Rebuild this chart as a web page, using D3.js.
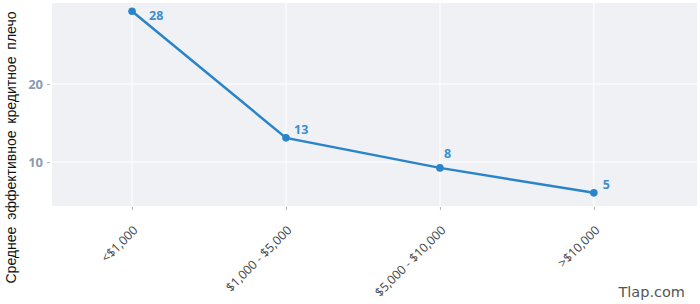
<!DOCTYPE html>
<html>
<head>
<meta charset="utf-8">
<script src="https://cdn.jsdelivr.net/npm/d3@7"></script>
<style>
  html, body { margin: 0; padding: 0; background: #fff; }
  svg { display: block; }
</style>
</head>
<body>
<svg id="chart" width="700" height="304"></svg>
<script>
// data
var categories = ['<$1,000', '$1,000 - $5,000', '$5,000 - $10,000', '>$10,000'];
var leverage = [29.35, 13.1, 9.25, 6.05];
var pointLabels = ['28', '13', '8', '5'];
var yTicks = [10, 20];
var yTitle = 'Среднее эффективное кредитное плечо';

var W = 700, H = 304;
var plot = { left: 52, right: 697, top: 3, bottom: 206 };

var svg = d3.select('#chart');

var x = d3.scaleLinear()
  .domain([-0.52, 3.67])
  .range([plot.left, plot.right]);

var y = d3.scaleLinear()
  .domain([4.36, 30.4])
  .range([plot.bottom, plot.top]);

// plot background
svg.append('rect')
  .attr('x', plot.left).attr('y', plot.top)
  .attr('width', plot.right - plot.left)
  .attr('height', plot.bottom - plot.top)
  .attr('fill', '#eff1f4');

// grid
svg.append('g').selectAll('line.hgrid')
  .data(yTicks).enter().append('line')
  .attr('x1', plot.left).attr('x2', plot.right)
  .attr('y1', function(d) { return y(d); })
  .attr('y2', function(d) { return y(d); })
  .attr('stroke', '#fff').attr('stroke-width', 1);

svg.append('g').selectAll('line.vgrid')
  .data(categories).enter().append('line')
  .attr('x1', function(d, i) { return x(i); })
  .attr('x2', function(d, i) { return x(i); })
  .attr('y1', plot.top).attr('y2', plot.bottom)
  .attr('stroke', '#fff').attr('stroke-width', 1);

// y axis
var yAxis = d3.axisLeft(y).tickValues(yTicks).tickSize(3).tickPadding(4);
var gy = svg.append('g')
  .attr('transform', 'translate(' + (plot.left - 2) + ',0)')
  .call(yAxis);
gy.select('.domain').remove();
gy.selectAll('.tick line').attr('stroke', '#aab4c4');
gy.selectAll('.tick text')
  .attr('fill', '#8c9bb3')
  .style('font', 'bold 13px "Open Sans", sans-serif');

// x axis
var xAxis = d3.axisBottom(x)
  .tickValues(d3.range(categories.length))
  .tickFormat(function(i) { return categories[i]; })
  .tickSize(3).tickPadding(4);
var gx = svg.append('g')
  .attr('transform', 'translate(0,' + (plot.bottom + 1) + ')')
  .call(xAxis);
gx.select('.domain').remove();
gx.selectAll('.tick line').attr('stroke', '#aab4c4');
gx.selectAll('.tick text')
  .attr('fill', '#444')
  .attr('text-anchor', 'end')
  .attr('x', 0).attr('y', 0).attr('dy', 0)
  .attr('transform', 'translate(6,24) rotate(-45)')
  .style('font', '12.3px "Open Sans", sans-serif');

// line + markers
var line = d3.line()
  .x(function(d, i) { return x(i); })
  .y(function(d) { return y(d); });

svg.append('path')
  .datum(leverage)
  .attr('d', line)
  .attr('fill', 'none')
  .attr('stroke', '#2a84c9')
  .attr('stroke-width', 2.5);

svg.append('g').selectAll('circle')
  .data(leverage).enter().append('circle')
  .attr('cx', function(d, i) { return x(i); })
  .attr('cy', function(d) { return y(d); })
  .attr('r', 3.8)
  .attr('fill', '#2a84c9');

// value labels (nudges)
var nudge = [[17, 4], [8, -8], [4, -14], [9, -8]];
svg.append('g').selectAll('text.val')
  .data(leverage).enter().append('text')
  .attr('x', function(d, i) { return x(i) + nudge[i][0]; })
  .attr('y', function(d, i) { return y(d) + nudge[i][1] + 4.5; })
  .attr('fill', '#3a8fd0')
  .style('font', 'bold 12.5px "Open Sans", sans-serif')
  .text(function(d, i) { return pointLabels[i]; });

// y title
svg.append('text')
  .attr('transform', 'translate(16,' + 147.5 + ') rotate(-90)')
  .attr('text-anchor', 'middle')
  .attr('fill', '#111')
  .style('font', '14px "Liberation Sans", Arial, sans-serif')
  .style('word-spacing', '3px')
  .text(yTitle);

// watermark
svg.append('text')
  .attr('x', 685).attr('y', 297)
  .attr('text-anchor', 'end')
  .attr('fill', '#555')
  .style('font', '14.5px "DejaVu Sans", sans-serif')
  .text('Tlap.com');
</script>
</body>
</html>
